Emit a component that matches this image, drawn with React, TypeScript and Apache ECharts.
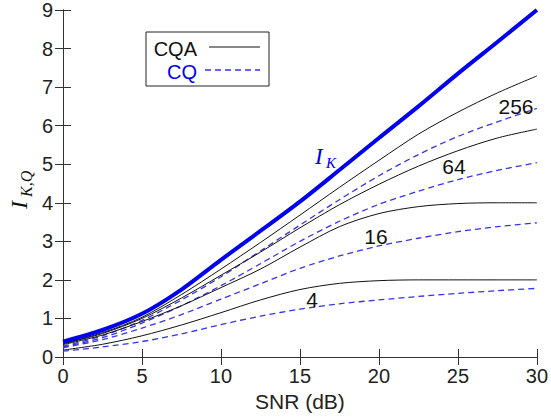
import React, { useEffect, useRef } from "react";
import * as echarts from "echarts";

const snr = [0, 2.5, 5, 7.5, 10, 12.5, 15, 17.5, 20, 22.5, 25, 27.5, 30];
const ik = [0.4, 0.7, 1.12, 1.75, 2.52, 3.27, 4.03, 4.85, 5.68, 6.5, 7.35, 8.17, 9.0];
const cqa256 = [0.35, 0.63, 1.03, 1.62, 2.28, 2.97, 3.68, 4.4, 5.1, 5.78, 6.35, 6.85, 7.29];
const cq256 = [0.28, 0.55, 0.95, 1.48, 2.08, 2.75, 3.42, 4.08, 4.7, 5.25, 5.72, 6.1, 6.45];
const cqa64 = [0.34, 0.61, 1.0, 1.53, 2.12, 2.72, 3.35, 3.95, 4.48, 4.95, 5.35, 5.68, 5.91];
const cq64 = [0.26, 0.5, 0.88, 1.33, 1.85, 2.42, 3.0, 3.52, 3.96, 4.3, 4.6, 4.84, 5.04];
const cqa16 = [0.32, 0.57, 0.92, 1.33, 1.8, 2.28, 2.85, 3.38, 3.72, 3.9, 3.98, 4.0, 4.0];
const cq16 = [0.24, 0.45, 0.75, 1.1, 1.5, 1.9, 2.3, 2.62, 2.88, 3.08, 3.25, 3.38, 3.48];
const cqa4 = [0.18, 0.33, 0.55, 0.83, 1.15, 1.48, 1.75, 1.91, 1.98, 2.0, 2.0, 2.0, 2.0];
const cq4 = [0.15, 0.26, 0.4, 0.6, 0.84, 1.06, 1.24, 1.38, 1.48, 1.57, 1.65, 1.72, 1.78];

const FONT = "Liberation Sans";
const SERIF = "Liberation Serif";
const BLUE = "#0000ee";
const DASHBLUE = "#3535e8";

const pair = (ys: number[]) => snr.map((x, i) => [x, ys[i]]);

export default function App() {
  const ref = useRef<HTMLDivElement>(null);
  useEffect(() => {
    if (!ref.current) return;
    const chart = echarts.init(ref.current, undefined, { renderer: "svg" });
    const axisCommon = {
      type: "value" as const,
      splitLine: { show: false },
      axisLine: { show: true, lineStyle: { color: "#333", width: 1 } },
      axisTick: { show: true, inside: true, length: 8, lineStyle: { color: "#333" } },
    };
    const lineSeries = (name: string, data: number[], kind: "ik" | "cqa" | "cq") => ({
      name,
      type: "line" as const,
      data: pair(data),
      showSymbol: false,
      smooth: 0.3,
      z: kind === "ik" ? 5 : kind === "cqa" ? 4 : 3,
      lineStyle:
        kind === "ik"
          ? { color: BLUE, width: 4 }
          : kind === "cqa"
          ? { color: "#111", width: 1 }
          : { color: DASHBLUE, width: 1.3, type: [6, 4] },
    });
    const label = (text: string, x: number, y: number) => ({
      type: "text",
      x,
      y,
      style: { text, fontFamily: FONT, fontSize: 21, fill: "#111", align: "center", verticalAlign: "middle" },
      z: 11,
    });
    chart.setOption({
      animation: false,
      grid: { left: 63, right: 13, top: 10, bottom: 62 },
      xAxis: [
        {
          ...axisCommon,
          min: 0,
          max: 30,
          interval: 5,
          position: "bottom",
          name: "SNR (dB)",
          nameLocation: "middle",
          nameGap: 33,
          nameTextStyle: { fontFamily: FONT, fontSize: 21, color: "#222" },
          axisLabel: { fontFamily: FONT, fontSize: 20, color: "#222", margin: 9 },
        },
        {
          ...axisCommon,
          min: 0,
          max: 30,
          interval: 5,
          position: "top",
          axisLabel: { show: false },
        },
      ],
      yAxis: [
        {
          ...axisCommon,
          min: 0,
          max: 9,
          interval: 1,
          position: "left",
          axisLabel: { fontFamily: FONT, fontSize: 20, color: "#222", margin: 10 },
        },
        {
          ...axisCommon,
          min: 0,
          max: 9,
          interval: 1,
          position: "right",
          axisLabel: { show: false },
        },
      ],
      series: [
        lineSeries("CQ 4", cq4, "cq"),
        lineSeries("CQ 16", cq16, "cq"),
        lineSeries("CQ 64", cq64, "cq"),
        lineSeries("CQ 256", cq256, "cq"),
        lineSeries("CQA 4", cqa4, "cqa"),
        lineSeries("CQA 16", cqa16, "cqa"),
        lineSeries("CQA 64", cqa64, "cqa"),
        lineSeries("CQA 256", cqa256, "cqa"),
        lineSeries("I_K", ik, "ik"),
      ],
      graphic: [
        {
          type: "rect",
          shape: { x: 146, y: 32, width: 123, height: 54 },
          style: { fill: "#fff", stroke: "#222", lineWidth: 1 },
          z: 10,
        },
        {
          type: "text",
          x: 197,
          y: 49,
          style: { text: "CQA", fontFamily: FONT, fontSize: 20, fill: "#111", align: "right", verticalAlign: "middle" },
          z: 11,
        },
        {
          type: "line",
          shape: { x1: 209, y1: 47, x2: 260, y2: 47 },
          style: { stroke: "#111", lineWidth: 1 },
          z: 11,
        },
        {
          type: "text",
          x: 197,
          y: 72,
          style: { text: "CQ", fontFamily: FONT, fontSize: 20, fill: BLUE, align: "right", verticalAlign: "middle" },
          z: 11,
        },
        {
          type: "line",
          shape: { x1: 205, y1: 70, x2: 260, y2: 70 },
          style: { stroke: DASHBLUE, lineWidth: 1.3, lineDash: [6, 4] },
          z: 11,
        },
        label("256", 516, 106),
        label("64", 454, 166),
        label("16", 376, 236),
        label("4", 312, 299),
        {
          type: "text",
          x: 315,
          y: 156,
          style: { text: "I", fontFamily: SERIF, fontStyle: "italic", fontSize: 23, fill: BLUE, align: "left", verticalAlign: "middle" },
          z: 11,
        },
        {
          type: "text",
          x: 326,
          y: 163,
          style: { text: "K", fontFamily: SERIF, fontStyle: "italic", fontSize: 15, fill: BLUE, align: "left", verticalAlign: "middle" },
          z: 11,
        },
        {
          type: "group",
          x: 19,
          y: 190,
          rotation: Math.PI / 2,
          children: [
            {
              type: "text",
              x: -19,
              y: 0,
              style: { text: "I", fontFamily: SERIF, fontStyle: "italic", fontSize: 24, fill: "#111", align: "left", verticalAlign: "middle" },
            },
            {
              type: "text",
              x: -7,
              y: 7,
              style: { text: "K,Q", fontFamily: SERIF, fontStyle: "italic", fontSize: 16, fill: "#111", align: "left", verticalAlign: "middle" },
            },
          ],
        },
      ],
    });
    return () => chart.dispose();
  }, []);
  return (
    <div
      ref={ref}
      style={{ position: "fixed", left: 0, top: 0, width: 551, height: 419, background: "#fff" }}
    />
  );
}
